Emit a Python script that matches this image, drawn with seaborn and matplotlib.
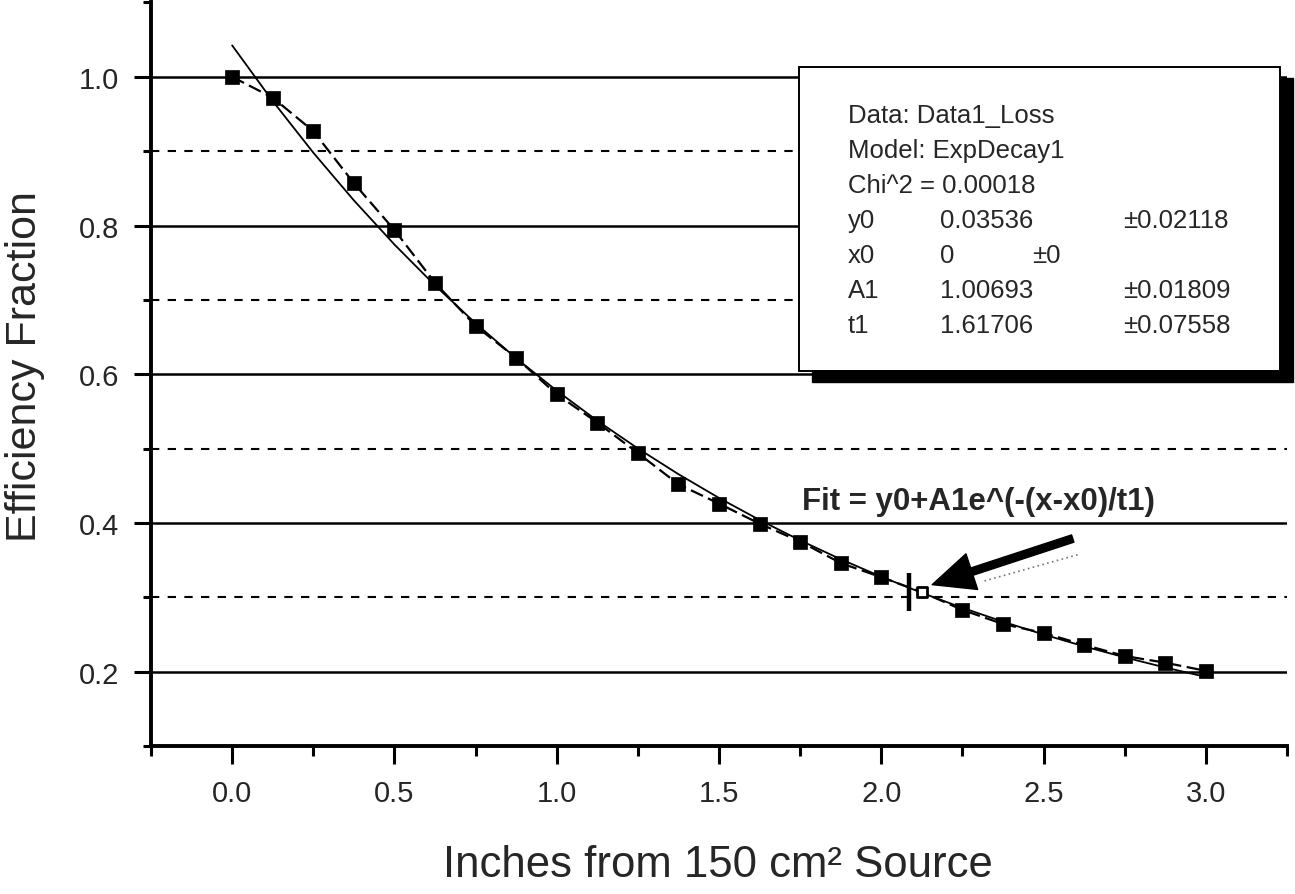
import numpy as np
import pandas as pd
import matplotlib
matplotlib.use("Agg")
import matplotlib.pyplot as plt
from matplotlib.ticker import FixedLocator, FormatStrFormatter
from matplotlib.patches import Rectangle
from matplotlib.transforms import offset_copy
import seaborn as sns

# ---------------- data ----------------
distance_in = [0.0, 0.125, 0.25, 0.375, 0.5, 0.625, 0.75, 0.875, 1.0, 1.125,
               1.25, 1.375, 1.5, 1.625, 1.75, 1.875, 2.0, 2.125, 2.25, 2.375,
               2.5, 2.625, 2.75, 2.875, 3.0]
efficiency = [1.000, 0.972, 0.927, 0.857, 0.794, 0.723, 0.665, 0.622, 0.573, 0.535,
              0.494, 0.452, 0.426, 0.399, 0.375, 0.346, 0.327, 0.307, 0.283, 0.264,
              0.252, 0.236, 0.221, 0.212, 0.201]
highlight_index = 17  # point marked with the crosshair / arrow

fit_y0 = 0.03536
fit_x0 = 0.0
fit_A1 = 1.00693
fit_t1 = 1.61706

x_ticks = [0.0, 0.5, 1.0, 1.5, 2.0, 2.5, 3.0]
x_minor = [-0.25, 0.25, 0.75, 1.25, 1.75, 2.25, 2.75, 3.25]
y_ticks = [0.2, 0.4, 0.6, 0.8, 1.0]
y_minor = [0.1, 0.3, 0.5, 0.7, 0.9, 1.1]
y_dashed = [0.3, 0.5, 0.7, 0.9]

legend_rows = [
    ("Data: Data1_Loss", "", ""),
    ("Model: ExpDecay1", "", ""),
    ("Chi^2 = 0.00018", "", ""),
    ("y0", "0.03536", "\u00b10.02118"),
    ("x0", "0", "\u00b10"),
    ("A1", "1.00693", "\u00b10.01809"),
    ("t1", "1.61706", "\u00b10.07558"),
]
fit_label = "Fit = y0+A1e^(-(x-x0)/t1)"
arrow_tail = (2.59, 0.379)
arrow_tip = (2.157, 0.317)

df = pd.DataFrame({"x": distance_in, "y": efficiency})
df["fit"] = fit_y0 + fit_A1 * np.exp(-(df["x"] - fit_x0) / fit_t1)

# ---------------- style ----------------
sns.set_theme(style="white")
plt.rcParams["font.family"] = ["Liberation Sans", "DejaVu Sans"]

fig = plt.figure(figsize=(12.95, 8.95), dpi=100)
ax = fig.add_axes([0.1166, 0.1654, 0.8772, 0.8307])
ax.set_xlim(-0.25, 3.25)
ax.set_ylim(0.1, 1.1)

# grid lines
for yv in y_ticks:
    ax.axhline(yv, color="black", lw=1.8, zorder=1)
for yv in y_dashed:
    ax.axhline(yv, color="black", lw=1.5, linestyle=(0, (4, 4)), zorder=1)

# fit curve (thin solid)
sns.lineplot(data=df, x="x", y="fit", ax=ax, color="black", lw=1.3,
             zorder=2, legend=False)
# data connecting line (dashed)
sns.lineplot(data=df, x="x", y="y", ax=ax, color="black", lw=1.6,
             linestyle=(0, (6, 2.5)), zorder=2.5, legend=False)
# data markers
main = df.drop(index=highlight_index)
sns.scatterplot(data=main, x="x", y="y", ax=ax, marker="s", s=115,
                color="black", edgecolor="black", linewidth=0.5,
                zorder=4, legend=False)
hl = df.iloc[[highlight_index]]
sns.scatterplot(data=hl, x="x", y="y", ax=ax, marker="s", s=60,
                color="white", edgecolor="black", linewidth=2,
                zorder=4, legend=False)
bar_tr = offset_copy(ax.transData, fig=fig, x=-9, y=0, units="points")
ax.plot(hl["x"], hl["y"], marker="|", markersize=27, mew=3.2,
        color="black", transform=bar_tr, zorder=4.5, linestyle="none")

# arrow
ax.annotate("", xy=arrow_tip, xytext=arrow_tail,
            arrowprops=dict(width=5.5, headwidth=27, headlength=30,
                            shrink=0, facecolor="black", edgecolor="black"),
            zorder=5)
ax.plot([2.318, 2.611], [0.322, 0.358], color="#777777", lw=1.2,
        linestyle=(0, (1, 2)), zorder=3)

ax.text(1.756, 0.419, fit_label, fontsize=22.5, fontweight="bold",
        ha="left", va="baseline", zorder=5)

# legend box with shadow
bx, by, bw, bh = 0.5704, 0.5044, 0.4234, 0.4088
shadow = Rectangle((bx + 0.0114, by - 0.0148), bw, bh, transform=ax.transAxes,
                   facecolor="black", edgecolor="black", zorder=6, clip_on=False)
box = Rectangle((bx, by), bw, bh, transform=ax.transAxes,
                facecolor="white", edgecolor="black", lw=1.4, zorder=7,
                clip_on=False)
ax.add_patch(shadow)
ax.add_patch(box)
row_y = [0.8393, 0.7922, 0.7451, 0.6981, 0.6510, 0.6039, 0.5568]
lfs = 18.5
for (c0, c1, c2), ry in zip(legend_rows, row_y):
    ax.text(0.6136, ry, c0, transform=ax.transAxes, fontsize=lfs,
            ha="left", va="baseline", zorder=8)
    if c1:
        ax.text(0.6945, ry, c1, transform=ax.transAxes, fontsize=lfs,
                ha="left", va="baseline", zorder=8)
    if c2:
        cx = 0.7755 if c2 == "\u00b10" else 0.8556
        ax.text(cx, ry, c2, transform=ax.transAxes, fontsize=lfs,
                ha="left", va="baseline", zorder=8)

# axes / ticks
for side in ["top", "right"]:
    ax.spines[side].set_visible(False)
for side in ["left", "bottom"]:
    ax.spines[side].set_linewidth(2.8)
    ax.spines[side].set_color("black")
    ax.spines[side].set_zorder(9)

ax.xaxis.set_major_locator(FixedLocator(x_ticks))
ax.xaxis.set_minor_locator(FixedLocator(x_minor))
ax.yaxis.set_major_locator(FixedLocator(y_ticks))
ax.yaxis.set_minor_locator(FixedLocator(y_minor))
ax.xaxis.set_major_formatter(FormatStrFormatter("%.1f"))
ax.yaxis.set_major_formatter(FormatStrFormatter("%.1f"))
ax.tick_params(axis="both", which="both", direction="out", color="black",
               width=2.2, bottom=True, left=True)
ax.tick_params(axis="x", which="major", length=13, labelsize=21, pad=11)
ax.tick_params(axis="x", which="minor", length=7)
ax.tick_params(axis="y", which="major", length=12, labelsize=21, pad=11)
ax.tick_params(axis="y", which="minor", length=6)
ax.grid(False)

ax.set_xlabel("Inches from 150 cm\u00b2 Source", fontsize=31.5)
ax.set_ylabel("Efficiency Fraction", fontsize=31, va="center")
ax.xaxis.set_label_coords(0.499, -0.175)
ax.xaxis.label.set_va("baseline")
ax.yaxis.set_label_coords(-0.111, 0.512)

fig.savefig("out.png", dpi=100, facecolor="white")
